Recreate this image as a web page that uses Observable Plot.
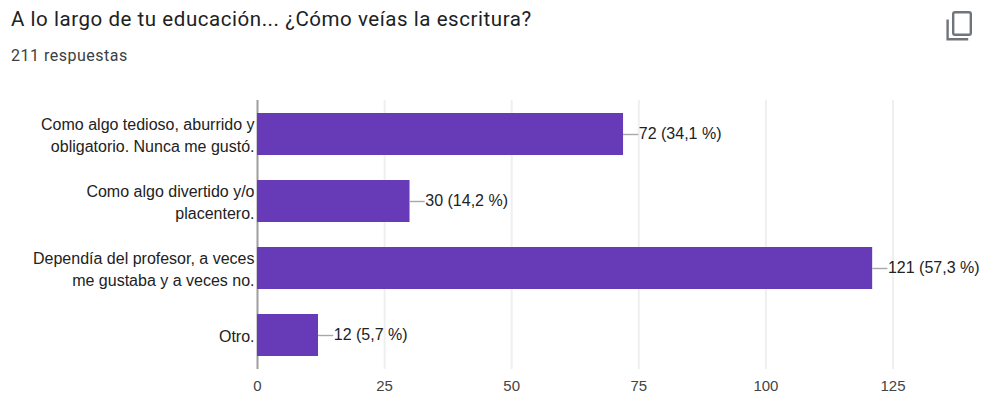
<!DOCTYPE html>
<html lang="es">
<head>
<meta charset="utf-8">
<script src="https://cdn.jsdelivr.net/npm/d3@7"></script>
<script src="https://cdn.jsdelivr.net/npm/@observablehq/plot@0.6"></script>
<style>
  html, body { margin: 0; padding: 0; background: #fff; }
  #card { position: relative; width: 984px; height: 395px; overflow: hidden; }
  #title { position: absolute; left: 11px; top: 7px; font: 400 20.5px/24px Roboto, sans-serif; letter-spacing: .55px; color: #202124; white-space: nowrap; }
  #sub { position: absolute; left: 11px; top: 46px; font: 400 16px/20px Roboto, sans-serif; letter-spacing: .5px; color: #3c4043; white-space: nowrap; }
  #copy { position: absolute; left: 944px; top: 10px; }
  #chart { position: absolute; left: 0; top: 80px; }
  #chart svg { display: block; background: transparent; }
</style>
</head>
<body>
<div id="card">
  <div id="title">A lo largo de tu educación... ¿Cómo veías la escritura?</div>
  <div id="sub">211 respuestas</div>
  <svg id="copy" width="30" height="32" viewBox="0 0 30 32" fill="none" stroke="#70757a" stroke-width="2.4">
    <rect x="9.2" y="2.2" width="17.6" height="22.6" rx="1.8"></rect>
    <path d="M3.6 9.6v19.6h20.6"></path>
  </svg>
  <div id="chart"></div>
</div>
<script>
// Respuestas de la encuesta
const categories = [
  "Como algo tedioso, aburrido y\nobligatorio. Nunca me gustó.",
  "Como algo divertido y/o\nplacentero.",
  "Dependía del profesor, a veces\nme gustaba y a veces no.",
  "Otro."
];
const counts = [72, 30, 121, 12];
const percents = ["34,1", "14,2", "57,3", "5,7"];
const xTicks = [0, 25, 50, 75, 100, 125];

const rows = categories.map((category, i) => ({
  category,
  count: counts[i],
  label: `${counts[i]} (${percents[i]} %)`
}));

const leaderLength = 3; // en unidades del eje x

const chart = Plot.plot({
  width: 984,
  height: 315,
  marginLeft: 257,
  marginRight: 91.5,
  marginTop: 20,
  marginBottom: 26,
  style: {fontFamily: "'Liberation Sans', Arial, sans-serif", fontSize: "16px", background: "transparent"},
  x: {domain: [0, 125], label: null},
  y: {domain: categories, label: null, paddingInner: 0.37, paddingOuter: 0.185},
  marks: [
    Plot.ruleX(xTicks.slice(1), {stroke: "#efefef", strokeWidth: 2}),
    Plot.ruleY([0], {frameAnchor: "bottom", stroke: "#efefef", strokeWidth: 2}),
    Plot.axisX({
      ticks: xTicks, tickSize: 0, tickPadding: 11, label: null,
      tickFormat: d => String(d), color: "#444", fontSize: 15
    }),
    Plot.axisY({
      tickSize: 0, tickPadding: 3, label: null, lineHeight: 1.38, dy: -1,
      color: "#222", fontSize: 16
    }),
    Plot.ruleX([0], {stroke: "#9e9e9e", strokeWidth: 2}),
    Plot.barX(rows, {x: "count", y: "category", fill: "#673ab7"}),
    Plot.ruleY(rows, {
      x1: "count", x2: d => d.count + leaderLength, y: "category",
      stroke: "#a8a8a8", strokeWidth: 1.4
    }),
    Plot.text(rows, {
      x: d => d.count + leaderLength, y: "category", text: "label",
      textAnchor: "start", dx: 0, dy: -0.5, fill: "#222", fontSize: 16
    })
  ]
});
document.getElementById("chart").append(chart);
</script>
</body>
</html>
